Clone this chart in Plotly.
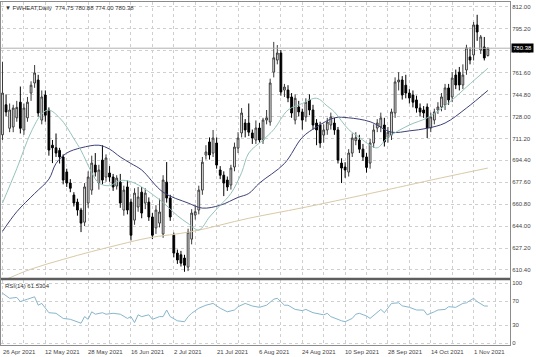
import plotly.graph_objects as go

# ---------------- data ----------------
OPEN = [714.0, 737.0, 719.0, 720.0, 727.0, 739.0, 717.7, 727.0, 746.0, 753.7,
        756.0, 725.3, 744.5, 733.0, 706.0, 704.0, 702.0, 697.0, 685.5, 677.0,
        667.8, 662.4, 656.3, 647.0, 661.7, 671.6, 690.8, 677.0, 694.6, 681.6,
        684.7, 681.6, 674.7, 677.7, 656.3, 674.0, 662.4, 648.6, 658.6, 670.0,
        661.7, 662.4, 651.0, 642.6, 646.3, 638.0, 677.7, 665.5, 637.0, 623.3,
        622.0, 619.5, 612.6, 634.0, 652.5, 656.3, 671.6, 698.5, 708.5, 700.0,
        707.7, 687.0, 683.0, 679.3, 675.5, 689.3, 703.8, 715.4, 723.0, 723.0,
        715.4, 710.0, 719.2, 710.0, 725.3, 723.8, 762.0, 771.3, 776.7, 748.3,
        748.3, 743.0, 725.3, 735.3, 731.5, 727.7, 740.7, 733.0, 723.0, 721.5,
        713.8, 717.7, 721.5, 723.0, 717.7, 692.3, 689.3, 685.4, 700.0, 709.5,
        710.0, 703.0, 697.0, 692.3, 707.7, 719.2, 720.0, 721.5, 712.0, 713.8,
        730.7, 754.5, 756.0, 752.0, 746.0, 744.5, 740.7, 734.5, 733.0, 735.3,
        719.2, 725.3, 733.0, 735.3, 736.8, 749.9, 743.0, 759.8, 762.0, 752.2,
        763.7, 773.7, 775.2, 798.2, 779.0, 781.3, 774.75]
HIGH = [770.0, 745.0, 738.0, 737.0, 740.0, 751.0, 738.0, 743.0, 755.0, 767.5,
        760.0, 748.0, 748.0, 735.0, 710.0, 715.0, 704.0, 699.0, 688.0, 680.0,
        670.0, 665.0, 658.0, 677.0, 686.0, 698.0, 700.0, 691.0, 706.0, 699.0,
        690.0, 684.0, 683.0, 684.0, 675.0, 679.0, 665.0, 673.0, 674.0, 674.0,
        673.0, 666.0, 654.0, 660.0, 665.0, 683.0, 693.1, 668.0, 639.0, 626.0,
        625.0, 622.0, 642.0, 657.0, 660.0, 675.0, 697.0, 706.0, 712.0, 717.7,
        712.0, 690.0, 686.0, 682.0, 691.0, 708.0, 716.0, 734.5, 726.0, 738.0,
        718.0, 725.0, 723.0, 727.0, 733.0, 757.0, 785.2, 782.8, 779.0, 753.0,
        752.0, 746.0, 745.0, 740.0, 734.0, 742.0, 745.0, 737.0, 726.0, 724.0,
        722.0, 727.0, 731.0, 727.0, 720.0, 696.0, 693.0, 703.0, 715.0, 716.0,
        714.0, 707.0, 700.0, 711.0, 722.0, 726.0, 731.0, 727.0, 720.0, 734.0,
        758.0, 762.0, 759.0, 760.0, 749.0, 748.0, 744.0, 738.0, 736.0, 738.0,
        731.0, 734.0, 739.0, 746.0, 753.0, 753.0, 762.0, 764.0, 766.0, 768.0,
        783.0, 781.0, 800.5, 806.0, 790.5, 789.0, 780.88]
LOW = [710.0, 728.0, 716.0, 716.0, 724.0, 715.0, 714.0, 724.0, 740.0, 750.0,
       728.0, 722.0, 724.0, 698.0, 692.3, 697.0, 692.0, 676.0, 674.0, 670.0,
       659.0, 652.0, 639.4, 644.0, 658.0, 668.0, 682.0, 672.0, 676.0, 678.0,
       678.0, 671.0, 672.0, 658.0, 652.0, 653.0, 633.0, 645.0, 655.0, 650.0,
       657.0, 648.0, 634.0, 638.0, 643.0, 635.0, 662.0, 648.0, 620.0, 615.0,
       613.0, 609.0, 609.5, 630.0, 649.0, 653.0, 668.0, 695.0, 695.0, 697.0,
       688.0, 680.0, 667.0, 671.0, 672.0, 686.0, 700.0, 712.0, 712.0, 713.0,
       707.0, 707.0, 708.0, 707.0, 722.0, 721.0, 758.0, 768.0, 744.0, 743.0,
       739.0, 727.0, 722.0, 728.0, 718.0, 724.0, 729.0, 718.0, 706.0, 704.0,
       708.0, 714.0, 718.0, 714.0, 692.0, 677.0, 681.0, 682.0, 697.0, 706.0,
       700.0, 694.0, 685.0, 688.0, 704.0, 716.0, 716.0, 705.0, 708.0, 710.0,
       727.0, 748.0, 741.0, 742.0, 738.0, 735.0, 731.0, 728.0, 727.0, 711.5,
       716.0, 722.0, 730.0, 732.0, 733.0, 737.0, 739.0, 749.0, 748.0, 749.0,
       760.0, 768.0, 771.0, 786.0, 776.0, 771.0, 774.00]
CLOSE = [746.0, 731.5, 733.0, 734.5, 735.0, 719.0, 734.5, 739.0, 752.0, 761.4,
         730.7, 743.0, 729.0, 702.3, 704.0, 700.0, 697.0, 679.3, 677.0, 673.0,
         661.7, 656.3, 646.3, 674.0, 681.6, 692.3, 685.4, 687.0, 679.3, 696.2,
         681.6, 674.0, 680.8, 661.7, 671.6, 656.3, 637.0, 669.3, 666.3, 654.0,
         669.3, 651.0, 637.0, 656.3, 654.8, 679.3, 665.5, 651.0, 623.3, 618.0,
         615.6, 614.0, 639.4, 654.0, 655.0, 671.6, 693.0, 700.8, 698.5, 711.5,
         690.8, 683.0, 677.0, 674.0, 688.5, 704.6, 711.5, 730.7, 717.7, 716.0,
         711.5, 719.2, 710.0, 725.3, 727.0, 753.7, 773.0, 776.7, 746.8, 750.6,
         742.2, 730.7, 742.0, 731.5, 725.3, 739.0, 733.0, 721.5, 717.7, 707.7,
         717.7, 723.8, 727.7, 717.7, 694.6, 688.5, 687.0, 700.0, 711.5, 711.8,
         703.0, 697.0, 689.0, 707.7, 717.7, 723.0, 726.9, 708.5, 716.0, 731.5,
         754.5, 756.0, 744.5, 746.0, 742.2, 739.0, 734.5, 731.5, 730.7, 719.2,
         727.7, 731.5, 735.3, 743.0, 749.9, 740.7, 757.5, 752.2, 752.2, 759.8,
         780.6, 771.3, 798.2, 792.8, 789.0, 772.9, 780.38]

# moving averages (bar index, value)
MA_FAST_IDX = [0, 4, 8, 11, 13, 16, 18, 20, 22, 25, 27, 30, 33, 36, 39, 45, 49, 52, 55, 58,
               61, 64, 67, 69, 73, 76, 80, 84, 88, 91, 93, 97, 100, 103, 105, 108, 114, 119,
               125, 130, 136]
MA_FAST_VAL = [661.7, 688, 716, 730, 733, 727, 720, 711, 702, 685, 677, 675, 679, 678, 674,
               662, 652, 646, 641, 651, 660, 669, 685, 700, 710, 718, 733, 738, 742, 736,
               731.5, 718, 712, 706, 704, 712, 721.5, 727, 738.4, 750.6, 765]
MA_MID_IDX = [0, 4, 9, 13, 15, 18, 22, 27, 30, 33, 36, 39, 45, 52, 56, 61, 66, 69, 72, 79,
              84, 88, 93, 97, 103, 109, 114, 119, 124, 130, 136]
MA_MID_VAL = [640, 655, 669, 680, 692, 700, 704, 706, 703, 697, 692, 687, 670, 661.7, 657.8,
              660, 666, 669, 677, 692, 712, 720, 727, 727, 724, 716, 717, 719, 723, 734.5, 748]
MA_SLOW_IDX = [0, 8, 17, 25, 33, 41, 53, 69, 84, 103, 123, 136]
MA_SLOW_VAL = [602, 611, 618.5, 624.5, 630, 635, 639.8, 650, 658, 669, 681, 688.5]

# RSI(14)
RSI_IDX = [0, 2, 4, 5, 7, 9, 10, 11, 13, 15, 17, 19, 22, 23, 24, 25, 26, 28, 29, 31,
           33, 35, 36, 37, 38, 39, 41, 42, 44, 45, 46, 47, 49, 51, 52, 53, 55, 57, 59, 61,
           63, 65, 66, 68, 70, 72, 74, 76, 77, 79, 80, 82, 84, 85, 87, 90, 91, 92, 95, 96,
           98, 99, 100, 102, 103, 105, 106, 107, 109, 111, 112, 114, 116, 118, 119, 121,
           122, 124, 125, 127, 129, 130, 132, 133, 135, 136]
RSI_VAL = [83, 74.5, 76, 69, 73, 77, 63, 66, 50.5, 49.5, 41, 39.5, 33, 44, 39.5, 52, 48,
           50.5, 48, 49.5, 48, 41, 44, 34, 47, 44, 47, 39.5, 44, 44, 55, 44, 37, 35.5, 44,
           49.5, 58, 63, 66, 58, 52, 55, 60.5, 66, 61.7, 59.5, 63, 73, 74.5, 63, 63, 56,
           54, 56, 50.5, 47, 49.5, 44, 37, 35.5, 41, 48, 49.5, 45, 41, 52, 56, 50.5, 66,
           67, 62, 59.5, 55, 55, 47, 52, 55, 56, 60.5, 59.5, 66, 67, 74.5, 69, 61.7, 61.53]

DATE_LABEL_IDX = [0, 12, 24, 36, 48, 60, 72, 84, 96, 108, 120, 132]
DATE_LABELS = ["26 Apr 2021", "12 May 2021", "28 May 2021", "16 Jun 2021", "2 Jul 2021",
               "21 Jul 2021", "6 Aug 2021", "24 Aug 2021", "10 Sep 2021", "28 Sep 2021",
               "14 Oct 2021", "1 Nov 2021"]
GRID_IDX = [0, 6, 12, 18, 24, 30, 36, 42, 48, 54, 60, 66, 72, 78, 84, 90, 96, 102, 108,
            114, 120, 126, 132, 138]
PRICE_TICKS = [610.40, 627.20, 644.00, 660.80, 677.60, 694.40, 711.20, 728.00, 744.80,
               761.60, 778.40, 795.20, 812.00]
RSI_TICKS = [0, 30, 70, 100]
SYMBOL = "FWHEAT,Daily"
RSI_NAME = "RSI(14)"
RSI_LAST = "61.5304"

# ---------------- figure ----------------
bars = list(range(len(CLOSE)))
FONT = "Liberation Sans, Arial, sans-serif"
AX = "#8c8c8c"
GRID = "#cfcfcf"
TXT = "#444444"

fig = go.Figure()
fig.add_trace(go.Candlestick(
    x=bars, open=OPEN, high=HIGH, low=LOW, close=CLOSE,
    increasing=dict(fillcolor="#ffffff", line=dict(color="#3a3a3a", width=1)),
    decreasing=dict(fillcolor="#000000", line=dict(color="#000000", width=1)),
    whiskerwidth=0, xaxis="x", yaxis="y", showlegend=False, hoverinfo="skip"))
fig.add_trace(go.Scatter(x=MA_SLOW_IDX, y=MA_SLOW_VAL, mode="lines", line=dict(color="#d9c9a6", width=1, shape="spline"),
                         xaxis="x", yaxis="y", showlegend=False))
fig.add_trace(go.Scatter(x=MA_MID_IDX, y=MA_MID_VAL, mode="lines", line=dict(color="#3c4177", width=1, shape="spline"),
                         xaxis="x", yaxis="y", showlegend=False))
fig.add_trace(go.Scatter(x=MA_FAST_IDX, y=MA_FAST_VAL, mode="lines", line=dict(color="#95c3bb", width=1, shape="spline"),
                         xaxis="x", yaxis="y", showlegend=False))
fig.add_trace(go.Scatter(x=RSI_IDX, y=RSI_VAL, mode="lines", line=dict(color="#86b6cc", width=1),
                         xaxis="x2", yaxis="y2", showlegend=False))

last_close = CLOSE[-1]
fig.add_hline(y=last_close, line=dict(color="#b0b0b0", width=1), xref="x", yref="y")

xr = [-0.42, 142.2]

fig.update_layout(
    width=536, height=357,
    margin=dict(l=1, r=26, t=2, b=12),
    paper_bgcolor="white", plot_bgcolor="white",
    font=dict(family=FONT, size=7, color="#333333"),
    xaxis=dict(domain=[0, 1], anchor="y", range=xr, tickvals=GRID_IDX, showticklabels=False,
               showgrid=True, gridcolor=GRID, griddash="dot", gridwidth=1, zeroline=False,
               showline=True, linecolor=AX, linewidth=1, mirror=True, ticks="",
               rangeslider=dict(visible=False), fixedrange=True),
    yaxis=dict(domain=[0.1953, 1], anchor="x", side="right", range=[604.2, 815.8],
               tickvals=PRICE_TICKS, ticktext=[f"{v:.2f}" for v in PRICE_TICKS],
               showgrid=True, gridcolor=GRID, griddash="dot", zeroline=False,
               showline=True, linecolor=AX, linewidth=1, mirror=True, ticks="", ticklen=0,
               ticklabelstandoff=0, tickfont=dict(size=6, color=TXT)),
    xaxis2=dict(domain=[0, 1], anchor="y2", range=xr, tickvals=GRID_IDX, showticklabels=False,
                showgrid=True, gridcolor=GRID, griddash="dot",
                zeroline=False, showline=True, linecolor=AX, linewidth=1, mirror=True, ticks=""),
    yaxis2=dict(domain=[0, 0.1895], anchor="x2", side="right", range=[-3.3, 105],
                tickvals=RSI_TICKS, showgrid=True, gridcolor=GRID, griddash="dot", zeroline=False,
                showline=True, linecolor=AX, linewidth=1, mirror=True, ticks="", ticklen=0,
                ticklabelstandoff=0, tickfont=dict(size=6, color=TXT)),
)

# date labels, left-aligned at their bar like the reference
for idx, lab in zip(DATE_LABEL_IDX, DATE_LABELS):
    fig.add_annotation(xref="x2", yref="paper", x=idx, y=-0.006, xanchor="left", yanchor="top",
                       text=lab, showarrow=False, font=dict(size=6, color=TXT), xshift=-2)

# panel separator
fig.add_shape(type="line", xref="paper", yref="paper", x0=0, x1=1, y0=0.1924, y1=0.1924,
              line=dict(color="#5e5e5e", width=2.5))

fig.add_annotation(xref="paper", yref="paper", x=0.004, y=0.996, xanchor="left", yanchor="top",
                   text=f"▼ {SYMBOL}  {OPEN[-1]:.2f} {HIGH[-1]:.2f} {LOW[-1]:.2f} {CLOSE[-1]:.2f}",
                   showarrow=False, font=dict(size=6, color="#333333"))
fig.add_annotation(xref="paper", yref="paper", x=0.004, y=0.186, xanchor="left", yanchor="top",
                   text=f"{RSI_NAME} {RSI_LAST}", showarrow=False, font=dict(size=6, color="#333333"))
fig.add_annotation(xref="paper", yref="y", x=1.0, y=last_close, xanchor="left", yanchor="middle",
                   text=f"{last_close:.2f}", showarrow=False, bgcolor="#000000",
                   font=dict(size=6, color="#ffffff"), borderpad=1, xshift=1)

fig.write_html("out.html", config={"displayModeBar": False},
               post_script="document.body.style.margin='0';document.body.style.padding='0';")
